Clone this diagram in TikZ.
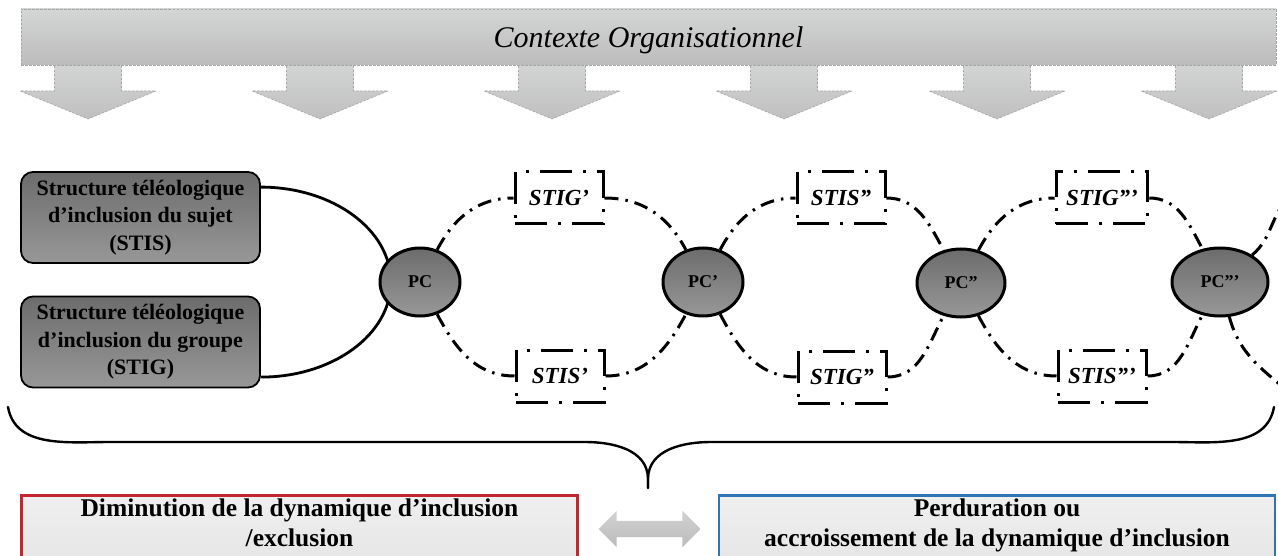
\documentclass[tikz,border=0pt]{standalone}
\usepackage{fontspec}
\setmainfont{Liberation Serif}
\usetikzlibrary{shapes.geometric,shapes.arrows}

\definecolor{ctxtop}{HTML}{D4D5D5}
\definecolor{ctxbot}{HTML}{BCBCBC}
\definecolor{ctxedge}{HTML}{A6A6A6}
\definecolor{stdark}{HTML}{6C6C6C}
\definecolor{stlight}{HTML}{989898}
\definecolor{outred}{HTML}{C1272D}
\definecolor{outblue}{HTML}{2F74B5}
\definecolor{outtop}{HTML}{EFEFEF}
\definecolor{outbot}{HTML}{DEDEDE}
\definecolor{swaptop}{HTML}{D2D2D2}
\definecolor{swapbot}{HTML}{BBBBBB}

\tikzset{
banner/.style={rectangle, minimum width=1255pt, minimum height=56pt, inner sep=0pt,
  top color=ctxtop, bottom color=ctxbot, draw=ctxedge, line width=0.7pt,
  dash pattern=on 2.5pt off 1.5pt, text depth=0pt,
  font=\fontsize{30}{32}\selectfont\itshape},
downarrow/.style={top color=ctxtop, bottom color=ctxbot!95!white, draw=ctxedge,
  line width=0.6pt, dash pattern=on 2.5pt off 1.5pt},
struct/.style={rectangle, rounded corners=12pt, draw, line width=1.8pt,
  top color=stdark, bottom color=stlight, minimum width=239pt, minimum height=91pt,
  inner sep=0pt, align=center, font=\fontsize{22}{27.5}\selectfont\bfseries},
solidarc/.style={line width=2.8pt},
pcnode/.style={ellipse, draw, line width=3pt, top color=stdark, bottom color=stlight,
  minimum width=80pt, minimum height=68pt, inner sep=1pt,
  font=\fontsize{18}{20}\selectfont\bfseries},
stibox/.style={rectangle, draw, line width=3pt, fill=white,
  dash pattern=on 32pt off 11pt on 3pt off 11pt,
  minimum width=88pt, minimum height=52pt, inner xsep=10pt, inner ysep=2pt,
  text depth=0pt, font=\fontsize{23}{25}\selectfont\bfseries\itshape},
looppath/.style={line width=3pt, dash pattern=on 14pt off 7pt on 2.5pt off 7pt},
bracepath/.style={line width=2.4pt, line cap=round},
outbox/.style={rectangle, anchor=north, minimum width=556pt, line width=2.6pt,
  top color=outtop, bottom color=outbot, align=center, inner ysep=4pt, text depth=70pt,
  font=\fontsize{25.5}{30}\selectfont\bfseries},
swaparrow/.style={double arrow, top color=swaptop, bottom color=swapbot,
  minimum height=102pt, double arrow head extend=10pt, inner sep=8pt}
}

\begin{document}
\begin{tikzpicture}[x=1pt,y=1pt]
\useasboundingbox (0,0) rectangle (1278,-556);
\clip (0,0) rectangle (1278,-556);

%arrows from the context
\foreach \x in {88,320,552,784,997,1209}
\draw[downarrow] (\x-33.5,-62) -- (\x-33.5,-91) -- (\x-68,-91) -- (\x,-119) -- (\x+68,-91) -- (\x+33.5,-91) -- (\x+33.5,-62);
%context banner
\node[banner] (ctx) at (648.5,-37) {Contexte Organisationnel};

%starting structures
\node[struct] (stis) at (140.5,-217.5) {Structure téléologique\\d’inclusion du sujet\\(STIS)};
\node[struct] (stig) at (140.5,-342) {Structure téléologique\\d’inclusion du groupe\\(STIG)};
\draw[solidarc] ([yshift=-16pt]stis.north east) arc[start angle=90, end angle=-90, x radius=130pt, y radius=95pt];

%turning points
\node[pcnode] (pc) at (420,-282) {PC};
\node[pcnode] (pcp) at (703,-282) {PC’};
\node[pcnode, minimum width=88pt] (pcpp) at (961,-283) {PC”};
\node[pcnode, minimum width=96pt] (pcppp) at (1220,-282) {PC”’};

%new structures
\node[stibox] (stigp) at (559,-198) {STIG’};
\node[stibox] (stisp) at (560,-376) {STIS’};
\node[stibox] (stispp) at (841,-198) {STIS”};
\node[stibox] (stigpp) at (842,-377) {STIG”};
\node[stibox] (stigppp) at (1102,-198) {STIG”’};
\node[stibox] (stisppp) at (1102,-376) {STIS”’};

%loops
\foreach \a/\up/\b/\down in {pc/stigp/pcp/stisp, pcp/stispp/pcpp/stigpp, pcpp/stigppp/pcppp/stisppp}{
\draw[looppath] (\a) to[out=62,in=180] (\up) to[out=0,in=118] (\b);
\draw[looppath] (\a) to[out=-62,in=180] (\down) to[out=0,in=-118] (\b);
}
\coordinate (cutup) at (1294,-194);
\coordinate (cutdown) at (1294,-396);
\draw[looppath] (pcppp) to[out=40,in=215] (cutup);
\draw[looppath] (pcppp) to[out=-75,in=140] (cutdown);

%brace
\coordinate (braceL) at (8,-407);
\coordinate (braceR) at (1274,-407);
\coordinate (braceTip) at (648,-488);
\draw[bracepath] (braceL) to[out=-80,in=180] (110,-442) -- (585,-442) to[out=0,in=92] ([yshift=10pt]braceTip) -- (braceTip);
\draw[bracepath] (braceR) to[out=-100,in=0] (1172,-442) -- (711,-442) to[out=180,in=88] ([yshift=10pt]braceTip) -- (braceTip);

%outcomes
\node[outbox, draw=outred] (dimin) at (299.5,-494) {Diminution de la dynamique d’inclusion\\/exclusion};
\node[outbox, draw=outblue] (perdur) at (997,-494) {Perduration ou\\accroissement de la dynamique d’inclusion};
\node[swaparrow] (swap) at (649.5,-529) {};

\end{tikzpicture}
\end{document}
